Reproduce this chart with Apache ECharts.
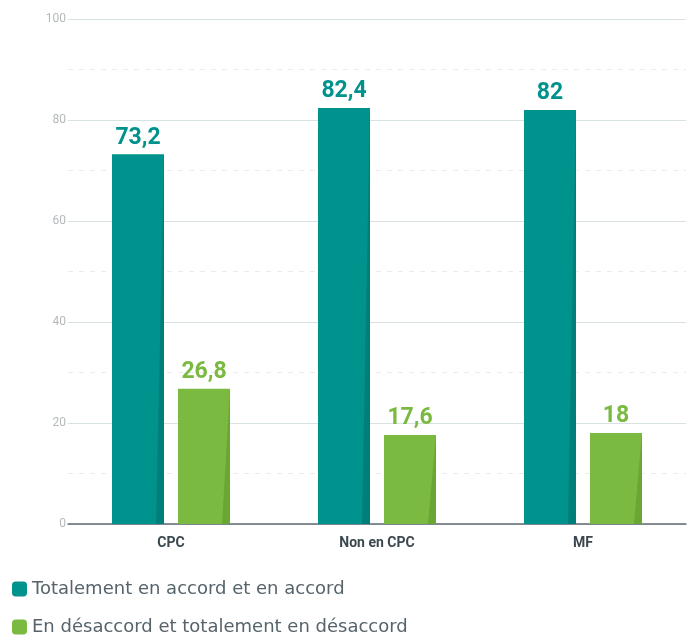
<!DOCTYPE html>
<html>
<head>
<meta charset="utf-8">
<script src="https://cdn.jsdelivr.net/npm/echarts@6/dist/echarts.min.js"></script>
<style>html,body{margin:0;padding:0;background:#fff}#c{width:689px;height:638px}</style>
</head>
<body>
<div id="c"></div>
<script>
const categories = ['CPC', 'Non en CPC', 'MF'];
const accord = [73.2, 82.4, 82];
const desaccord = [26.8, 17.6, 18];
const seriesNames = ['Totalement en accord et en accord', 'En désaccord et totalement en désaccord'];
const yTicks = [0, 20, 40, 60, 80, 100];

const TEAL = '#00928c', TEAL_D = '#007f7a';
const GREEN = '#7aba40', GREEN_D = '#69a634';
const BAR_W = 52, GAP = 14;

const chart = echarts.init(document.getElementById('c'), null, {renderer: 'canvas'});
const fmt = p => String(p.value).replace('.', ',');

function shadeRender(values, offset, col) {
  return function (params, api) {
    const i = api.value(0);
    const base = api.coord([i, 0]);
    const top = api.coord([i, api.value(1)]);
    const right = base[0] + offset + BAR_W / 2;
    return {
      type: 'polygon',
      shape: {points: [[right, top[1]], [right, base[1]], [right - 8, base[1]]]},
      style: {fill: col}
    };
  };
}

chart.setOption({
  animation: false,
  grid: {left: 68, right: 3, top: 19, bottom: 114},
  legend: {
    orient: 'vertical', left: 12, top: 580, itemGap: 20, padding: 0, height: 60,
    itemWidth: 15, itemHeight: 15, icon: 'roundRect',
    data: seriesNames,
    textStyle: {fontFamily: 'DejaVu Sans', fontSize: 18, color: '#56636b', padding: [0, 0, 0, 0]}
  },
  xAxis: {
    type: 'category', data: categories,
    axisLine: {lineStyle: {color: '#5f6b73', width: 1.5}},
    axisTick: {show: false},
    axisLabel: {fontFamily: 'Roboto', fontWeight: 'bold', fontSize: 14, color: '#3c4850', margin: 12}
  },
  yAxis: {
    type: 'value', min: yTicks[0], max: yTicks[yTicks.length - 1], interval: 20,
    axisLine: {show: false}, axisTick: {show: false},
    axisLabel: {fontFamily: 'Roboto', fontSize: 12, color: '#b3b8bb', margin: 2},
    splitLine: {lineStyle: {color: '#d8e2e2', width: 1}},
    minorTick: {show: false, splitNumber: 2},
    minorSplitLine: {show: true, lineStyle: {color: '#e8ecec', type: [5, 6]}}
  },
  series: [
    {
      name: seriesNames[0], type: 'bar', data: accord, barWidth: BAR_W, barGap: (GAP / BAR_W * 100) + '%',
      itemStyle: {color: TEAL},
      label: {show: true, position: 'top', distance: 5, formatter: fmt,
        fontFamily: 'Roboto', fontWeight: 'bold', fontSize: 23, color: TEAL}
    },
    {
      name: seriesNames[1], type: 'bar', data: desaccord, barWidth: BAR_W,
      itemStyle: {color: GREEN},
      label: {show: true, position: 'top', distance: 5, formatter: fmt,
        fontFamily: 'Roboto', fontWeight: 'bold', fontSize: 23, color: GREEN}
    },
    {
      name: 'shade1', type: 'custom', z: 3,
      data: accord.map((v, i) => [i, v]),
      renderItem: shadeRender(accord, -(BAR_W + GAP) / 2, TEAL_D)
    },
    {
      name: 'shade2', type: 'custom', z: 3,
      data: desaccord.map((v, i) => [i, v]),
      renderItem: shadeRender(desaccord, (BAR_W + GAP) / 2, GREEN_D)
    }
  ]
});
</script>
</body>
</html>
